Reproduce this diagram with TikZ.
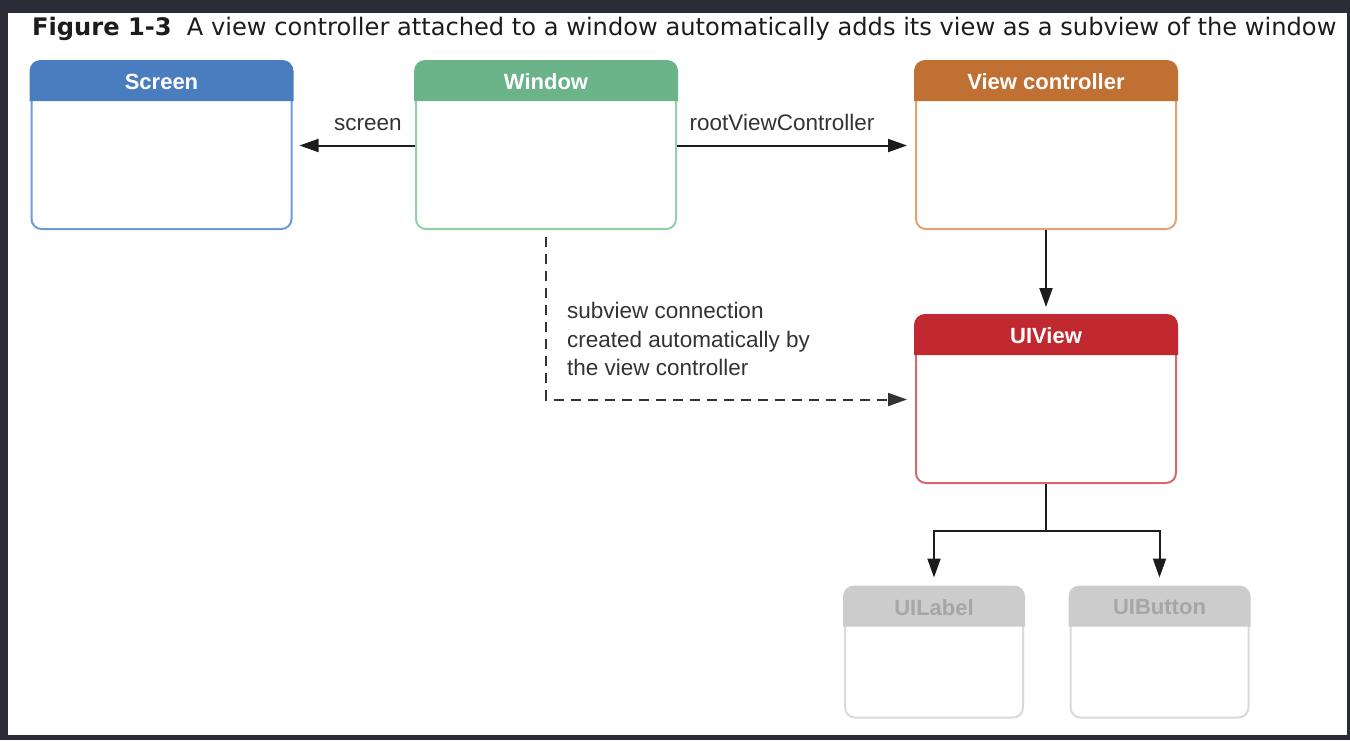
\documentclass[tikz,border=0pt]{standalone}
\usepackage{fontspec}
\setmainfont{Liberation Sans}
\newfontfamily\titlefont{DejaVu Sans}
\usetikzlibrary{arrows.meta}
\definecolor{bgdark}{HTML}{2B2C38}
\definecolor{scrH}{HTML}{4A7CC0}
\definecolor{scrB}{HTML}{6E9AD8}
\definecolor{winH}{HTML}{6BB48A}
\definecolor{winB}{HTML}{92D0A8}
\definecolor{vcH}{HTML}{C07032}
\definecolor{vcB}{HTML}{E2A272}
\definecolor{uvH}{HTML}{C1282F}
\definecolor{uvB}{HTML}{DC6670}
\definecolor{grH}{HTML}{CCCCCC}
\definecolor{grB}{HTML}{DADADA}
\definecolor{grT}{HTML}{A6A6A6}
\definecolor{ink}{HTML}{1C1C1C}
\definecolor{txt}{HTML}{333333}
\newcommand{\boxheader}[2]{%
  \fill[#2] ([xshift=-1pt,yshift=-40pt]#1.north west)
    -- ([xshift=-1pt,yshift=-10pt]#1.north west)
    arc[start angle=180, end angle=90, radius=11pt]
    -- ([xshift=-10pt,yshift=1pt]#1.north east)
    arc[start angle=90, end angle=0, radius=11pt]
    -- ([xshift=1pt,yshift=-40pt]#1.north east) -- cycle;}
\begin{document}
\begin{tikzpicture}[x=1pt,y=-1pt,
  cbox/.style={rectangle, rounded corners=10pt, line width=2pt,
    fill=white, inner sep=0pt, draw=#1},
  bigbox/.style={minimum width=260pt, minimum height=167pt},
  smallbox/.style={minimum width=178pt, minimum height=130pt},
  hlabel/.style={font=\fontsize{22}{26}\selectfont\bfseries, text=white, inner sep=0pt},
  glabel/.style={font=\fontsize{22}{26}\selectfont\bfseries, text=grT, inner sep=0pt},
  elabel/.style={font=\fontsize{22.5}{27}\selectfont, text=txt, inner sep=0pt},
  arr/.style={-{Triangle[length=19pt,width=13pt]}, line width=2pt, draw=ink},
  plain/.style={line width=2pt, draw=ink},
  dsh/.style={-{Triangle[length=19pt,width=13pt]}, line width=2pt, draw=txt,
    dash pattern=on 10pt off 7pt}
]
\useasboundingbox (0,0) rectangle (1350,740);
\fill[bgdark] (0,0) rectangle (1350,740);
\fill[white] (8,13) rectangle (1347,735);

% title
\node[anchor=base west, inner sep=0pt, text=ink] (title) at (32,35)
  {\resizebox{1304pt}{!}{\titlefont\fontsize{19}{23}\selectfont\textbf{Figure 1-3}\ \ A view controller attached to a window automatically adds its view as a subview of the window}};

% boxes
\node[cbox=scrB, bigbox] (scr) at (161.5,145.5) {};
\node[cbox=winB, bigbox] (win) at (546,145.5) {};
\node[cbox=vcB, bigbox] (vc) at (1046,145.5) {};
\node[cbox=uvB, bigbox] (uiv) at (1046,399.5) {};
\node[cbox=grB, smallbox] (lbl) at (934,652.5) {};
\node[cbox=grB, smallbox] (btn) at (1159.5,652.5) {};
\boxheader{scr}{scrH}
\boxheader{win}{winH}
\boxheader{vc}{vcH}
\boxheader{uiv}{uvH}
\boxheader{lbl}{grH}
\boxheader{btn}{grH}

\node[hlabel] (scrT) at ([yshift=-21pt]scr.north) {Screen};
\node[hlabel] (winT) at ([yshift=-21pt]win.north) {Window};
\node[hlabel] (vcT) at ([yshift=-21pt]vc.north) {View controller};
\node[hlabel] (uivT) at ([yshift=-21pt]uiv.north) {UIView};
\node[glabel] (lblT) at ([yshift=-21pt]lbl.north) {UILabel};
\node[glabel] (btnT) at ([yshift=-21pt]btn.north) {UIButton};

% connectors
\draw[arr, shorten >=7pt] (win.west) -- (scr.east);
\draw[arr, shorten >=8pt] (win.east) -- (vc.west);
\draw[arr, shorten >=8pt] (vc.south) -- (uiv.north);
\draw[dsh, shorten >=8pt] ([yshift=-7pt]win.south) |- (uiv.west);
\coordinate (j) at ([yshift=-47pt]uiv.south);
\draw[plain] (uiv.south) -- (j);
\draw[arr, shorten >=9pt] (j) -| (lbl.north);
\draw[arr, shorten >=9pt] (j) -| (btn.north);

% edge labels
\node[elabel, anchor=base] (lscreen) at (368,130) {screen};
\node[elabel, anchor=base] (lroot) at (782,130) {rootViewController};
\node[elabel, anchor=base west] (ls1) at (567,318) {subview connection};
\node[elabel, anchor=base west] (ls2) at (567,347) {created automatically by};
\node[elabel, anchor=base west] (ls3) at (567,375) {the view controller};
\end{tikzpicture}
\end{document}
